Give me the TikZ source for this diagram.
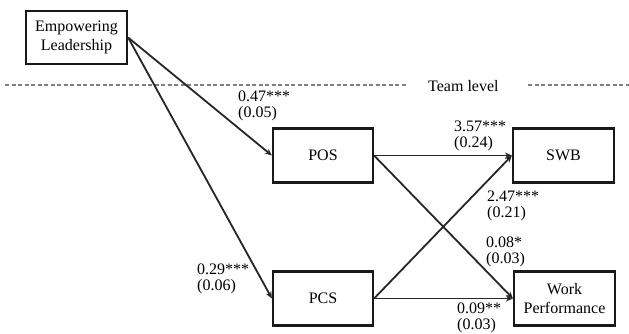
\documentclass[tikz,border=0pt]{standalone}
\usepackage{fontspec}
\setmainfont{Liberation Serif}
\usetikzlibrary{arrows.meta}
\begin{document}
\begin{tikzpicture}[x=1pt,y=-1pt,
  box/.style={draw=black!90,line width=2.2pt,minimum width=100pt,minimum height=54pt,inner sep=0pt,align=center,font=\fontsize{16}{19.5}\selectfont},
  conn/.style={draw=black!85,line width=1.8pt,-{Stealth[length=7pt,width=6pt]}},
  lbl/.style={anchor=base west,inner sep=0pt,align=left,font=\fontsize{16}{15.8}\selectfont},
  sep/.style={draw=black!50,line width=1.3pt,dash pattern=on 4pt off 2.5pt}]
\useasboundingbox (0,0) rectangle (629,333);
\node[box,minimum width=101pt,minimum height=53pt] (el) at (76.5,37.5) {Empowering\\Leadership};
\node[box] (pos) at (323,155.5) {POS};
\node[box,minimum width=101pt] (swb) at (563.5,155.5) {SWB};
\node[box] (pcs) at (323,298.5) {PCS};
\node[box,minimum width=101pt] (wp) at (564.5,298.5) {Work\\Performance};
\node[anchor=base west,inner sep=0pt,font=\fontsize{16}{19}\selectfont] (team) at (428,91) {Team level};
\coordinate (d1) at (5,85);
\coordinate (d2) at (407,85);
\coordinate (d3) at (528,85);
\coordinate (d4) at (629,85);
\draw[sep] (d1) -- (d2);
\draw[sep] (d3) -- (d4);
\draw[conn] (el.east) -- (pos.west);
\draw[conn] (el.east) -- (pcs.west);
\draw[conn] (pos.east) -- (swb.west);
\draw[conn] (pos.east) -- (wp.west);
\draw[conn] (pcs.east) -- (swb.west);
\draw[conn] (pcs.east) -- (wp.west);
\node[lbl] (l1) at (238,117.5) {0.47***\\(0.05)};
\node[lbl] (l2) at (454,147) {3.57***\\(0.24)};
\node[lbl] (l3) at (487,217) {2.47***\\(0.21)};
\node[lbl] (l4) at (486,263) {0.08*\\(0.03)};
\node[lbl] (l5) at (197,290.5) {0.29***\\(0.06)};
\node[lbl] (l6) at (457,329) {0.09**\\(0.03)};
\end{tikzpicture}
\end{document}
